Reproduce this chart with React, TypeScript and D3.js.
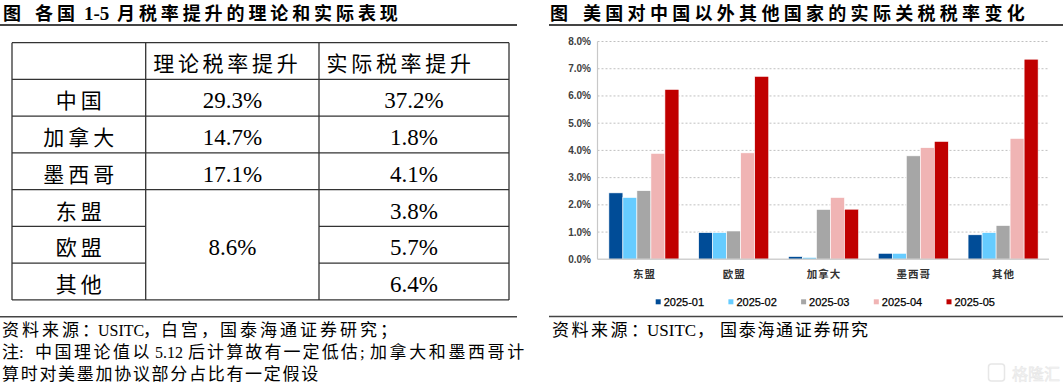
import React from "react";
import * as d3 from "d3";

// ---------- Left table data ----------
const tableHeaders = ["理论税率提升", "实际税率提升"];
const tableCountries = ["中国", "加拿大", "墨西哥", "东盟", "欧盟", "其他"];
const theoreticalRise = ["29.3%", "14.7%", "17.1%"];
const mergedTheoretical = "8.6%"; // shared by 东盟 / 欧盟 / 其他
const actualRise = ["37.2%", "1.8%", "4.1%", "3.8%", "5.7%", "6.4%"];

// ---------- Right chart data ----------
const categories = ["东盟", "欧盟", "加拿大", "墨西哥", "其他"];
const seriesNames = ["2025-01", "2025-02", "2025-03", "2025-04", "2025-05"];
const s202501 = [2.44, 0.98, 0.1, 0.22, 0.9];
const s202502 = [2.27, 0.98, 0.07, 0.22, 0.98];
const s202503 = [2.52, 1.04, 1.83, 3.8, 1.24];
const s202504 = [3.89, 3.91, 2.27, 4.1, 4.44];
const s202505 = [6.24, 6.72, 1.84, 4.33, 7.35];
const seriesValues = [s202501, s202502, s202503, s202504, s202505];
const seriesColors = ["#004C97", "#66CCFF", "#A6A6A6", "#F0B4B4", "#C00000"];
const yTicks = [0, 1, 2, 3, 4, 5, 6, 7, 8];

const serif = "'Liberation Serif', 'Times New Roman', 'Noto Sans CJK SC', serif";
const cjk = "'Noto Sans CJK SC', 'Liberation Sans', sans-serif";
const sans = "'Liberation Sans', Arial, sans-serif";

function LeftTable() {
  const colX = [12, 145.7, 319, 509];
  const rowY = d3.scaleLinear().domain([0, 7]).range([42.7, 299.95]);
  const lineColor = "#333";
  const lines: JSX.Element[] = [];
  for (let i = 0; i <= 7; i++) {
    const y = rowY(i);
    if (i === 5 || i === 6) {
      lines.push(<line key={"h1" + i} x1={colX[0]} x2={colX[1]} y1={y} y2={y} stroke={lineColor} strokeWidth={1.3} />);
      lines.push(<line key={"h2" + i} x1={colX[2]} x2={colX[3]} y1={y} y2={y} stroke={lineColor} strokeWidth={1.3} />);
    } else {
      lines.push(<line key={"h" + i} x1={colX[0]} x2={colX[3]} y1={y} y2={y} stroke={lineColor} strokeWidth={1.3} />);
    }
  }
  colX.forEach((x, j) =>
    lines.push(<line key={"v" + j} x1={x} x2={x} y1={rowY(0)} y2={rowY(7)} stroke={lineColor} strokeWidth={1.3} />)
  );
  const ls = 4;
  return (
    <g>
      {lines}
      {tableHeaders.map((h, j) => (
        <text key={h} x={colX[j + 1] + 7.5} y={rowY(0) + 28.5} fontFamily={serif} fontSize={21} letterSpacing={3.7} fill="#000">
          {h}
        </text>
      ))}
      {tableCountries.map((c, i) => (
        <text key={c} x={(colX[0] + colX[1]) / 2 + ls / 2} y={rowY(i + 1) + 29} textAnchor="middle" fontFamily={serif} fontSize={21} letterSpacing={ls} fill="#000">
          {c}
        </text>
      ))}
      {theoreticalRise.map((v, i) => (
        <text key={"t" + i} x={(colX[1] + colX[2]) / 2} y={rowY(i + 1) + 29} textAnchor="middle" fontFamily={serif} fontSize={23} fill="#000">
          {v}
        </text>
      ))}
      <text x={(colX[1] + colX[2]) / 2} y={(rowY(4) + rowY(7)) / 2 + 10} textAnchor="middle" fontFamily={serif} fontSize={23} fill="#000">
        {mergedTheoretical}
      </text>
      {actualRise.map((v, i) => (
        <text key={"a" + i} x={(colX[2] + colX[3]) / 2} y={rowY(i + 1) + 29} textAnchor="middle" fontFamily={serif} fontSize={23} fill="#000">
          {v}
        </text>
      ))}
    </g>
  );
}

function RightChart() {
  const x0 = d3.scaleBand<string>().domain(categories).range([599, 1048]).paddingInner(0.22).paddingOuter(0.11);
  const x1 = d3.scaleBand<string>().domain(seriesNames).range([0, x0.bandwidth()]);
  const y = d3.scaleLinear().domain([0, 8]).range([259.3, 41.5]);
  const left = 597.5;
  const right = 1049;
  return (
    <g>
      {yTicks.map((t) => (
        <g key={t}>
          {t > 0 && (
            <line x1={left} x2={right} y1={y(t)} y2={y(t)} stroke="#c0c0c0" strokeWidth={1} strokeDasharray="2,2" />
          )}
          <text x={591} y={y(t)} dy="0.35em" textAnchor="end" fontFamily={sans} fontWeight="bold" fontSize={10} fill="#404040">
            {d3.format(".1f")(t) + "%"}
          </text>
        </g>
      ))}
      <line x1={left} x2={left} y1={y(8)} y2={y(0)} stroke="#c8c8c8" strokeWidth={1.2} />
      {seriesValues.map((vals, si) =>
        vals.map((v, ci) => (
          <rect
            key={si + "-" + ci}
            x={(x0(categories[ci]) as number) + (x1(seriesNames[si]) as number)}
            y={y(v)}
            width={x1.bandwidth()}
            height={y(0) - y(v)}
            fill={seriesColors[si]}
            stroke="#fff"
            strokeWidth={0.6}
          />
        ))
      )}
      <line x1={left} x2={right} y1={y(0)} y2={y(0)} stroke="#d0d0d0" strokeWidth={1.5} />
      {categories.map((c) => (
        <text key={c} x={(x0(c) as number) + x0.bandwidth() / 2 + 0.5} y={278} textAnchor="middle" fontFamily={cjk} fontWeight="bold" fontSize={10.5} letterSpacing={1} fill="#333">
          {c}
        </text>
      ))}
      {seriesNames.map((s, i) => {
        const lx = 655.7 + i * 72.7;
        return (
          <g key={s}>
            <rect x={lx} y={299.3} width={5} height={5} fill={seriesColors[i]} />
            <text x={lx + 8} y={306} fontFamily={sans} fontSize={11} fill="#000" stroke="#000" strokeWidth={0.25}>
              {s}
            </text>
          </g>
        );
      })}
    </g>
  );
}

export default function App() {
  return (
    <svg
      width={1063}
      height={389}
      viewBox="0 0 1063 389"
      style={{ position: "absolute", left: 0, top: 0, background: "#fff", display: "block" }}
    >
      <rect x={0} y={0} width={1063} height={389} fill="#fff" />
      {/* Left title */}
      <text y={20} fontFamily={serif} fontWeight="bold" fontSize={18} fill="#000">
        <tspan x={3}>图</tspan>
        <tspan x={35} letterSpacing={4}>各国</tspan>
        <tspan x={84} fontSize={19}>1-5</tspan>
        <tspan x={117} letterSpacing={3.9}>月税率提升的理论和实际表现</tspan>
      </text>
      <line x1={0} x2={517} y1={25} y2={25} stroke="#444" strokeWidth={2} />
      <LeftTable />
      <line x1={0} x2={517} y1={316.7} y2={316.7} stroke="#444" strokeWidth={1.5} />
      <text y={336} fontFamily={serif} fontSize={17} fill="#000">
        <tspan x={2} letterSpacing={3}>资料来源</tspan>
        <tspan x={82}>：</tspan>
        <tspan x={98} fontSize={16}>USITC</tspan>
        <tspan x={143}>，</tspan>
        <tspan x={161} letterSpacing={3}>白宫</tspan>
        <tspan x={201}>，</tspan>
        <tspan x={220} letterSpacing={3}>国泰海通证券研究；</tspan>
      </text>
      <text y={358} fontFamily={serif} fontSize={17} fill="#000">
        <tspan x={2}>注</tspan>
        <tspan x={19}>:</tspan>
        <tspan x={35} letterSpacing={2.5}>中国理论值以</tspan>
        <tspan x={155} fontSize={16}>5.12</tspan>
        <tspan x={188} letterSpacing={2.1}>后计算故有一定低估</tspan>
        <tspan x={360}>;</tspan>
        <tspan x={370} letterSpacing={2.6}>加拿大和墨西哥计</tspan>
      </text>
      <text x={2} y={380} fontFamily={serif} fontSize={17} fill="#000" letterSpacing={1.7}>
        算时对美墨加协议部分占比有一定假设
      </text>

      {/* Right title */}
      <text y={19.5} fontFamily={serif} fontWeight="bold" fontSize={18} fill="#000">
        <tspan x={550}>图</tspan>
        <tspan x={583} letterSpacing={4.3}>美国对中国以外其他国家的实际关税税率变化</tspan>
      </text>
      <line x1={549} x2={1063} y1={25} y2={25} stroke="#444" strokeWidth={2} />
      <RightChart />
      <line x1={549} x2={1063} y1={316.5} y2={316.5} stroke="#444" strokeWidth={1.5} />
      <text y={336} fontFamily={serif} fontSize={17} fill="#000">
        <tspan x={552} letterSpacing={2.5}>资料来源</tspan>
        <tspan x={631}>：</tspan>
        <tspan x={647}>USITC</tspan>
        <tspan x={697}>，</tspan>
        <tspan x={720} letterSpacing={1.7}>国泰海通证券研究</tspan>
      </text>

      {/* watermark */}
      <g opacity={0.35}>
        <rect x={988.5} y={364} width={16} height={17} rx={3} fill="none" stroke="#bbb" strokeWidth={1.5} />
        <text x={1012} y={380} fontFamily={cjk} fontSize={16} fill="#ddd" stroke="#bbb" strokeWidth={0.6}>
          格隆汇
        </text>
      </g>
    </svg>
  );
}
